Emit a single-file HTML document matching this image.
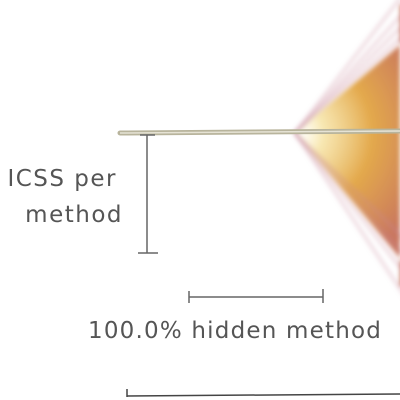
<!DOCTYPE html>
<html><head><meta charset="utf-8"><style>body{margin:0;background:#fff}svg{display:block}text{font-family:"DejaVu Sans","Liberation Sans",sans-serif;fill:#555}</style></head>
<body>
<svg width="400" height="400" viewBox="0 0 400 400">
<defs>
<radialGradient id="fg" cx="295" cy="133" r="140" gradientUnits="userSpaceOnUse">
<stop offset="0" stop-color="#fffdf0" stop-opacity="0.2"/>
<stop offset="0.2" stop-color="#f6e2a0" stop-opacity="0.8"/>
<stop offset="0.55" stop-color="#e3a94c"/>
<stop offset="1" stop-color="#c9775e"/>
</radialGradient>
<filter id="bl"><feGaussianBlur stdDeviation="2.5"/></filter>
</defs>
<g id="fan" filter="url(#bl)"></g>
<line x1="120" y1="133" x2="400" y2="131" stroke="#b8b49c" stroke-width="5" stroke-linecap="round"/>
<line x1="120" y1="133" x2="400" y2="131" stroke="#e6e3d5" stroke-width="1.5"/>
<g stroke="#666" stroke-width="1.5">
<line x1="147" y1="135" x2="147" y2="253"/><line x1="138" y1="253" x2="158" y2="253"/><line x1="140" y1="135" x2="155" y2="135"/>
</g>
<text x="117" y="186" font-size="23" letter-spacing="1.5" text-anchor="end">ICSS per</text>
<text x="123" y="222" font-size="23" letter-spacing="1.5" text-anchor="end">method</text>
<g stroke="#666" stroke-width="1.5">
<line x1="189" y1="297" x2="323" y2="297"/><line x1="189" y1="291" x2="189" y2="303"/><line x1="323" y1="289" x2="323" y2="303"/>
</g>
<text x="88" y="338" font-size="23" letter-spacing="1.2">100.0% hidden method</text>
<line x1="127" y1="396" x2="400" y2="394" stroke="#444" stroke-width="1.5"/>
<line x1="127" y1="389" x2="127" y2="397" stroke="#444" stroke-width="1.5"/>
</svg>
<script>
const rayAnglesDeg=[-52,-48,-45,-42,44,48,52,56];
const bodyTopDeg=-40, bodyBottomDeg=50;
const ax=295, ay=133, len=200;
const g=document.getElementById('fan');
const ns='http://www.w3.org/2000/svg';
function pt(d){const r=d*Math.PI/180;return [ax+len*Math.cos(r),ay+len*Math.sin(r)];}
const t=pt(bodyTopDeg), b=pt(bodyBottomDeg);
const body=document.createElementNS(ns,'polygon');
body.setAttribute('points',`${ax},${ay} ${t[0]},${t[1]} 400,${t[1]} 400,${b[1]} ${b[0]},${b[1]}`);
body.setAttribute('fill','url(#fg)');


g.appendChild(body);
rayAnglesDeg.forEach(d=>{const p=pt(d);const l=document.createElementNS(ns,'line');
l.setAttribute('x1',ax);l.setAttribute('y1',ay);l.setAttribute('x2',p[0]);l.setAttribute('y2',p[1]);
l.setAttribute('stroke','#c88a9a');l.setAttribute('stroke-opacity','0.35');l.setAttribute('stroke-width','3');


g.appendChild(l);});
</script>
</body></html>
